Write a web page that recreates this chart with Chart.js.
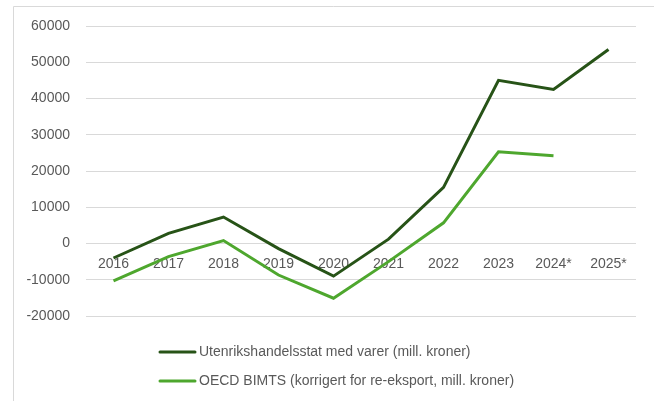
<!DOCTYPE html>
<html>
<head>
<meta charset="utf-8">
<script src="https://cdn.jsdelivr.net/npm/chart.js@4"></script>
<style>
  html, body { margin: 0; padding: 0; background: #ffffff; }
  #wrap { position: relative; width: 654px; height: 401px; }
</style>
</head>
<body>
<div id="wrap"><canvas id="tradeChart" width="654" height="401"></canvas></div>
<script>
// Handelsbalanse, varer
const years = ['2016', '2017', '2018', '2019', '2020', '2021', '2022', '2023', '2024*', '2025*'];
const utenrikshandel = [-4000, 2800, 7300, -1400, -9000, 1200, 15500, 45000, 42500, 53500];
const oecdBimts = [-10300, -3600, 800, -8700, -15100, -5000, 5700, 25300, 24200, null];
const yTicks = [-20000, -10000, 0, 10000, 20000, 30000, 40000, 50000, 60000];

const textColor = '#595959';
const fontFamily = '"Liberation Sans", Arial, sans-serif';

// frame around the whole chart plus a stacked legend under the plot
const chartDecor = {
    id: 'chartDecor',
    beforeDraw(chart) {
        const c = chart.ctx;
        c.save();
        c.strokeStyle = '#d9d9d9';
        c.lineWidth = 1;
        c.beginPath();
        c.moveTo(13.5, chart.height);
        c.lineTo(13.5, 6.5);
        c.lineTo(chart.width, 6.5);
        c.stroke();
        c.restore();
    },
    afterDraw(chart) {
        const c = chart.ctx;
        c.save();
        c.font = '14px ' + fontFamily;
        c.textBaseline = 'middle';
        c.textAlign = 'left';
        chart.data.datasets.forEach(function(ds, i) {
            const y = 352 + i * 29;
            c.strokeStyle = ds.borderColor;
            c.lineWidth = 3;
            c.lineCap = 'round';
            c.beginPath();
            c.moveTo(160, y);
            c.lineTo(195, y);
            c.stroke();
            c.fillStyle = textColor;
            c.fillText(ds.label, 199, y);
        });
        c.restore();
    }
};

const ctx = document.getElementById('tradeChart').getContext('2d');
new Chart(ctx, {
    type: 'line',
    data: {
        labels: years,
        datasets: [
            {
                label: 'Utenrikshandelsstat med varer (mill. kroner)',
                data: utenrikshandel,
                borderColor: '#275317',
                backgroundColor: '#275317',
                borderWidth: 3,
                pointRadius: 0,
                tension: 0
            },
            {
                label: 'OECD BIMTS (korrigert for re-eksport, mill. kroner)',
                data: oecdBimts,
                borderColor: '#4ea72e',
                backgroundColor: '#4ea72e',
                borderWidth: 3,
                pointRadius: 0,
                tension: 0
            }
        ]
    },
    options: {
        responsive: false,
        animation: false,
        layout: {
            padding: { top: 26, right: 18, bottom: 85, left: 0 }
        },
        plugins: {
            legend: { display: false },
            tooltip: { enabled: false }
        },
        scales: {
            x: {
                position: { y: 0 },
                offset: true,
                grid: { display: false },
                border: { display: false },
                ticks: {
                    color: textColor,
                    padding: 4,
                    maxRotation: 0,
                    font: { family: fontFamily, size: 14 }
                }
            },
            y: {
                min: -20000,
                max: 60000,
                afterBuildTicks(scale) {
                    scale.ticks = yTicks.map(v => ({ value: v }));
                },
                afterFit(scale) {
                    scale.width = 86;
                },
                grid: {
                    color: '#d9d9d9',
                    lineWidth: 1,
                    drawTicks: false
                },
                border: { display: false },
                ticks: {
                    color: textColor,
                    padding: 16,
                    font: { family: fontFamily, size: 14 },
                    callback: v => String(v)
                }
            }
        }
    },
    plugins: [chartDecor]
});
</script>
</body>
</html>
